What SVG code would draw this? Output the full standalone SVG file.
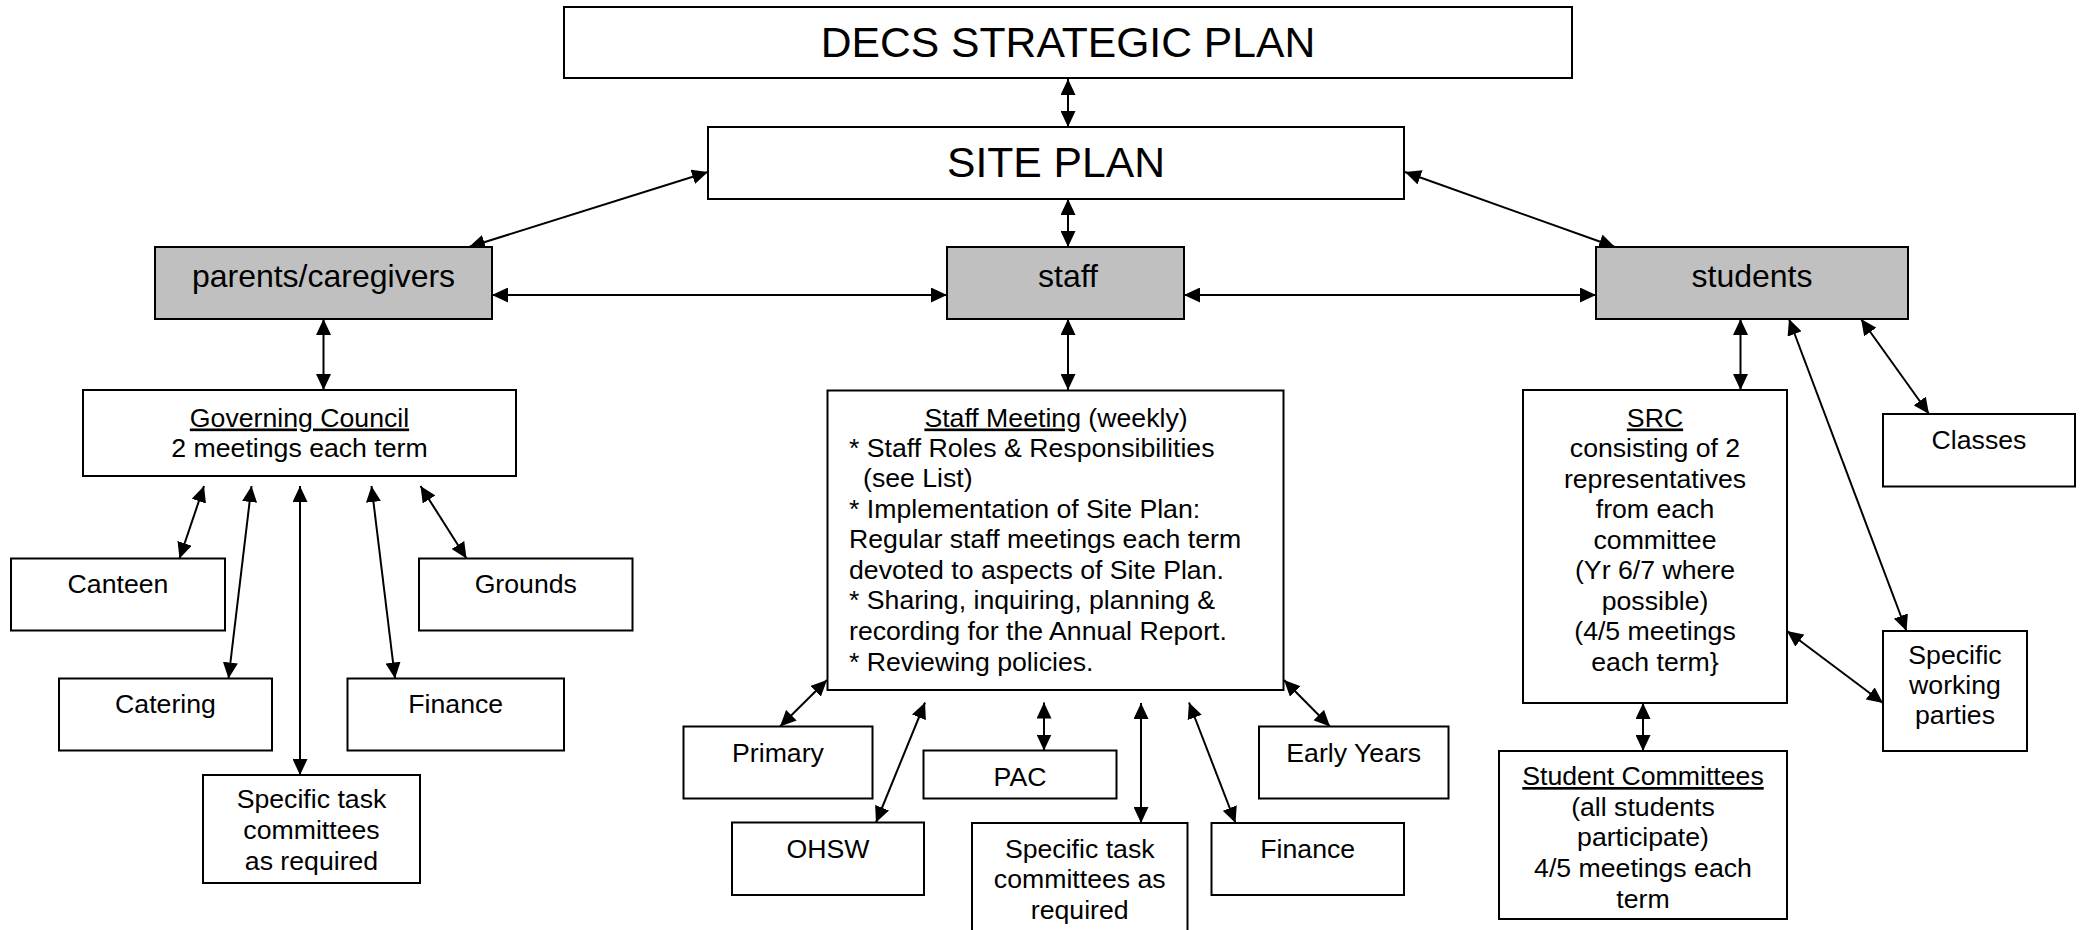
<svg xmlns="http://www.w3.org/2000/svg" width="2085" height="930" viewBox="0 0 2085 930">
<style>
.box{fill:#ffffff;stroke:#000000;stroke-width:2}
.gray{fill:#c0c0c0;stroke:#000000;stroke-width:2}
text{font-family:"Liberation Sans",Arial,sans-serif;fill:#000000}
.big{font-size:42.67px;text-anchor:middle}
.med{font-size:32px;text-anchor:middle}
.sm{font-size:26.67px;text-anchor:middle}
.sml{font-size:26.67px;text-anchor:start}
.u{text-decoration:underline}
.conn line{stroke:#000000;stroke-width:2;marker-start:url(#ah);marker-end:url(#ah)}
</style>
<defs>
<marker id="ah" markerUnits="userSpaceOnUse" markerWidth="17" markerHeight="15" refX="16" refY="7.5" orient="auto-start-reverse" viewBox="0 0 17 15">
<path d="M0,0 L16,7.5 L0,15 z" fill="#000000"/>
</marker>
</defs>
<rect width="2085" height="930" fill="#ffffff"/>

<g id="connectors" class="conn">
<line x1="1068" y1="79" x2="1068" y2="127"/>
<line x1="1068" y1="199" x2="1068" y2="247"/>
<line x1="1068" y1="319" x2="1068" y2="390"/>
<line x1="708" y1="172" x2="469" y2="247"/>
<line x1="1405" y1="172" x2="1615" y2="247"/>
<line x1="492" y1="295" x2="947" y2="295"/>
<line x1="1184" y1="295" x2="1596" y2="295"/>
<line x1="323.5" y1="319" x2="323.5" y2="390"/>
<line x1="204" y1="486" x2="179.5" y2="558.5"/>
<line x1="251.5" y1="486" x2="228.5" y2="678.5"/>
<line x1="300" y1="486" x2="300" y2="775"/>
<line x1="371.5" y1="486" x2="395" y2="678.5"/>
<line x1="420.5" y1="486" x2="466.5" y2="558.5"/>
<line x1="827" y1="680" x2="780" y2="726.5"/>
<line x1="925" y1="702.5" x2="876" y2="822.5"/>
<line x1="1044" y1="702.5" x2="1044" y2="750.5"/>
<line x1="1141" y1="703" x2="1141" y2="823"/>
<line x1="1189" y1="702.5" x2="1235.5" y2="823"/>
<line x1="1284" y1="680" x2="1330" y2="726.5"/>
<line x1="1740.5" y1="319" x2="1740.5" y2="390"/>
<line x1="1789" y1="319" x2="1906.5" y2="631"/>
<line x1="1861" y1="319" x2="1929" y2="414"/>
<line x1="1787" y1="631" x2="1883" y2="703"/>
<line x1="1643" y1="703" x2="1643" y2="751"/>
</g>

<g id="decs">
<rect class="box" x="564" y="7" width="1008" height="71"/>
<text class="big" x="1068" y="57">DECS STRATEGIC PLAN</text>
</g>
<g id="site">
<rect class="box" x="708" y="127" width="696" height="72"/>
<text class="big" x="1056" y="177">SITE PLAN</text>
</g>
<g id="parents">
<rect class="gray" x="155" y="247" width="337" height="72"/>
<text class="med" x="323.5" y="287">parents/caregivers</text>
</g>
<g id="staff">
<rect class="gray" x="947" y="247" width="237" height="72"/>
<text class="med" x="1068" y="287">staff</text>
</g>
<g id="students">
<rect class="gray" x="1596" y="247" width="312" height="72"/>
<text class="med" x="1752" y="287">students</text>
</g>

<g id="governing-council">
<rect class="box" x="83" y="390" width="433" height="86"/>
<text class="sm" x="299.5" y="426.5"><tspan class="u">Governing Council</tspan></text>
<text class="sm" x="299.5" y="456.5">2 meetings each term</text>
</g>
<g id="canteen">
<rect class="box" x="11" y="558.5" width="214" height="72"/>
<text class="sm" x="118" y="593">Canteen</text>
</g>
<g id="grounds">
<rect class="box" x="419" y="558.5" width="213.5" height="72"/>
<text class="sm" x="525.75" y="593">Grounds</text>
</g>
<g id="catering">
<rect class="box" x="59" y="678.5" width="213" height="72"/>
<text class="sm" x="165.5" y="713">Catering</text>
</g>
<g id="finance-gc">
<rect class="box" x="347.5" y="678.5" width="216.5" height="72"/>
<text class="sm" x="455.75" y="713">Finance</text>
</g>
<g id="task-gc">
<rect class="box" x="203" y="775" width="217" height="108"/>
<text class="sm" x="311.5" y="808">Specific task</text>
<text class="sm" x="311.5" y="839">committees</text>
<text class="sm" x="311.5" y="869.5">as required</text>
</g>

<g id="staff-meeting">
<rect class="box" x="827.5" y="390.5" width="456" height="299.5"/>
<text class="sm" x="1056" y="426.5"><tspan class="u">Staff Meeting</tspan> (weekly)</text>
<text class="sml" x="849" y="456.8">* Staff Roles &amp; Responsibilities</text>
<text class="sml" x="863" y="487">(see List)</text>
<text class="sml" x="849" y="517.5">* Implementation of Site Plan:</text>
<text class="sml" x="849" y="548">Regular staff meetings each term</text>
<text class="sml" x="849" y="578.8">devoted to aspects of Site Plan.</text>
<text class="sml" x="849" y="609.4">* Sharing, inquiring, planning &amp;</text>
<text class="sml" x="849" y="640">recording for the Annual Report.</text>
<text class="sml" x="849" y="670.5">* Reviewing policies.</text>
</g>
<g id="primary">
<rect class="box" x="683.5" y="726.5" width="189" height="72"/>
<text class="sm" x="778" y="761.5">Primary</text>
</g>
<g id="pac">
<rect class="box" x="923.5" y="750.5" width="193" height="48"/>
<text class="sm" x="1020" y="786">PAC</text>
</g>
<g id="ohsw">
<rect class="box" x="732" y="822.5" width="192" height="72.5"/>
<text class="sm" x="828" y="857.5">OHSW</text>
</g>
<g id="task-staff">
<path class="box" d="M972,932 V823 H1187.5 V932"/>
<text class="sm" x="1079.75" y="857.5">Specific task</text>
<text class="sm" x="1079.75" y="888">committees as</text>
<text class="sm" x="1079.75" y="918.5">required</text>
</g>
<g id="finance-staff">
<rect class="box" x="1211.5" y="823" width="192.5" height="72"/>
<text class="sm" x="1307.75" y="857.5">Finance</text>
</g>
<g id="early-years">
<rect class="box" x="1259" y="726.5" width="189.5" height="72"/>
<text class="sm" x="1353.75" y="761.5">Early Years</text>
</g>

<g id="src">
<rect class="box" x="1523" y="390" width="264" height="313"/>
<text class="sm" x="1655" y="426.5"><tspan class="u">SRC</tspan></text>
<text class="sm" x="1655" y="457">consisting of 2</text>
<text class="sm" x="1655" y="487.5">representatives</text>
<text class="sm" x="1655" y="518">from each</text>
<text class="sm" x="1655" y="548.5">committee</text>
<text class="sm" x="1655" y="579">(Yr 6/7 where</text>
<text class="sm" x="1655" y="609.5">possible)</text>
<text class="sm" x="1655" y="640">(4/5 meetings</text>
<text class="sm" x="1655" y="670.5">each term}</text>
</g>
<g id="classes">
<rect class="box" x="1883" y="414" width="192" height="72.5"/>
<text class="sm" x="1979" y="448.5">Classes</text>
</g>
<g id="working-parties">
<rect class="box" x="1883" y="631" width="144" height="120"/>
<text class="sm" x="1955" y="663.5">Specific</text>
<text class="sm" x="1955" y="694">working</text>
<text class="sm" x="1955" y="724">parties</text>
</g>
<g id="student-committees">
<rect class="box" x="1499" y="751" width="288" height="168"/>
<text class="sm" x="1643" y="785"><tspan class="u">Student Committees</tspan></text>
<text class="sm" x="1643" y="815.8">(all students</text>
<text class="sm" x="1643" y="846.4">participate)</text>
<text class="sm" x="1643" y="877">4/5 meetings each</text>
<text class="sm" x="1643" y="907.5">term</text>
</g>
</svg>
